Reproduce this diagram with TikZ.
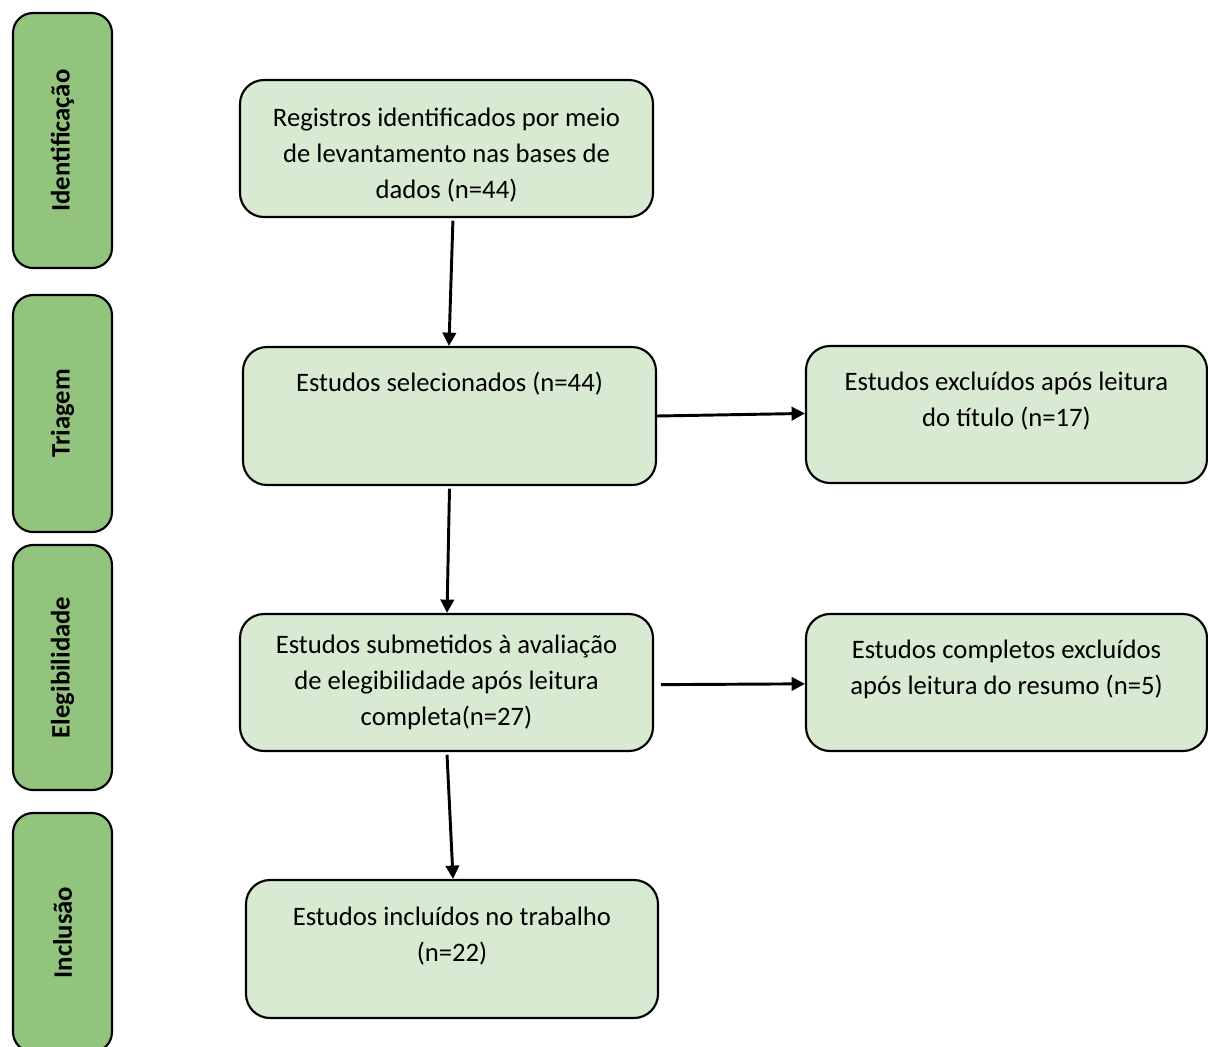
\documentclass[tikz,border=0pt]{standalone}
\usepackage{fontspec}
\setmainfont{Carlito}
\usetikzlibrary{arrows.meta}
\definecolor{faixa}{RGB}{146,196,125}
\definecolor{caixa}{RGB}{217,234,211}
\newcommand{\baixo}[1]{\rule[-#1]{0pt}{#1}}
\newcommand{\alto}[1]{\rule{0pt}{#1}}
\tikzset{
    >={Triangle[length=5pt,width=5pt]},
    etapa/.style={
           draw=black, line width=0.8pt,
           fill=faixa,
           rounded corners=7.5pt,
           rotate=90,
           minimum height=99*0.375pt,
           inner sep=0pt,
           font=\fontsize{10pt}{12pt}\selectfont\bfseries},
    caixa/.style={
           draw=black, line width=0.8pt,
           fill=caixa,
           rounded corners=9pt,
           minimum width=413*0.375pt,
           minimum height=137*0.375pt,
           inner sep=0pt,
           align=center,
           font=\fontsize{10pt}{13.5pt}\selectfont},
    pil/.style={
           ->,
           line width=1.1pt}
}

\begin{document}
\begin{tikzpicture}[x=0.375pt,y=-0.375pt]
          \useasboundingbox (0,0) rectangle (1208,1047);
          % fases
          \node[etapa, minimum width=255*0.375pt](fidf) at (62.5,140.5) {Identificação};
          \node[etapa, minimum width=237*0.375pt](ftri) at (62.5,413.5) {Triagem};
          \node[etapa, minimum width=245*0.375pt](fele) at (62.5,667.5) {Elegibilidade};
          \node[etapa, minimum width=239*0.375pt](finc) at (62.5,932.5) {Inclusão};
          % caixas
          \node[caixa](reg) at (446.5,148.5) {\alto{12pt}Registros identificados por meio\\de levantamento nas bases de\\dados (n=44)};
          \node[caixa, minimum height=138*0.375pt](sel) at (449.5,416) {Estudos selecionados (n=44)\baixo{25.4pt}};
          \node[caixa, minimum width=401*0.375pt](tit) at (1006.5,414.5) {Estudos excluídos após leitura\\do título (n=17)\baixo{11.1pt}};
          \node[caixa](sub) at (446.5,682.5) {Estudos submetidos à avaliação\\de elegibilidade após leitura\\completa(n=27)};
          \node[caixa, minimum width=401*0.375pt](com) at (1006.5,682.5) {Estudos completos excluídos\\após leitura do resumo (n=5)\baixo{11.1pt}};
          \node[caixa, minimum width=412*0.375pt, minimum height=138*0.375pt](inc) at (452,949) {Estudos incluídos no trabalho\\(n=22)\baixo{11.1pt}};
          % setas
          \draw[pil] ([xshift=2.4pt,yshift=-1pt]reg.south) -- ([xshift=-0.2pt]sel.north);
          \draw[pil] ([yshift=-1pt]sel.south) -- ([xshift=0.2pt]sub.north);
          \draw[pil] ([xshift=0.2pt,yshift=-1pt]sub.south) -- ([xshift=0.4pt]inc.north);
          \draw[pil] (sel.east) -- ([yshift=0.4pt]tit.west);
          \draw[pil] ([xshift=2.6pt,yshift=-0.8pt]sub.east) -- ([yshift=-0.5pt]com.west);
\end{tikzpicture}
\end{document}
